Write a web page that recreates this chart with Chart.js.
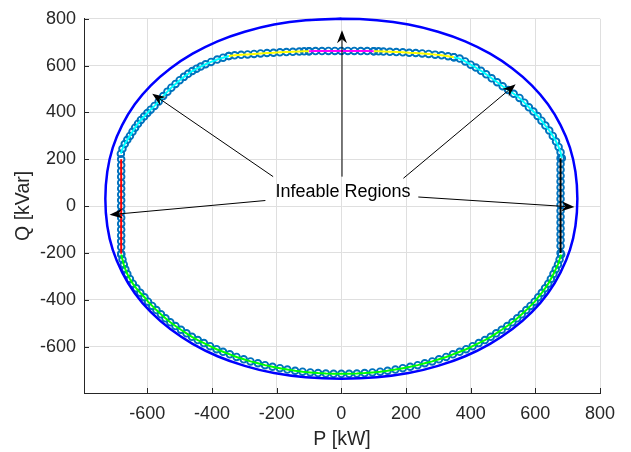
<!DOCTYPE html>
<html><head><meta charset="utf-8">
<script src="https://cdn.jsdelivr.net/npm/chart.js@4.4.0/dist/chart.umd.min.js"></script>
<style>html,body{margin:0;padding:0;background:#fff;}#wrap{width:631px;height:452px;}</style>
</head><body><div id="wrap"><canvas id="c" width="631" height="452"></canvas></div>
<script>
// ---------- data ----------
const xTickValues = [-600, -400, -200, 0, 200, 400, 600, 800];
const xTickLabels = ['-600', '-400', '-200', '0', '200', '400', '600', '800'];
const yTickValues = [-600, -400, -200, 0, 200, 400, 600, 800];
const yTickLabels = ['-600', '-400', '-200', '0', '200', '400', '600', '800'];
const xLabel = 'P [kW]';
const yLabel = 'Q [kVar]';

// capability limit (blue), read around the loop
const limitP = [0, -110, -208, -299, -383, -460, -529, -589, -639, -678, -707, -724,
  -730, -724, -707, -678, -639, -589, -529, -460, -383, -299, -208, -110,
  0, 110, 208, 299, 383, 460, 529, 589, 639, 678, 707, 724,
  730, 724, 707, 678, 639, 589, 529, 460, 383, 299, 208, 110, 0, -110];
const limitQ = [800, 794, 776, 745, 704, 651, 588, 516, 435, 346, 250, 147,
  31, -85, -187, -283, -372, -453, -525, -588, -641, -682, -713, -731,
  -737, -731, -713, -682, -641, -588, -525, -453, -372, -283, -187, -85,
  31, 147, 250, 346, 435, 516, 588, 651, 704, 745, 776, 794, 800, 794];

// operating points, by region
const leftVertP = [-681, -681, -681, -681, -681, -681, -681, -681, -681, -681, -681, -681, -681, -681, -681, -681, -681];
const leftVertQ = [200, 175, 150, 125, 100, 75, 50, 25, 0, -25, -50, -75, -100, -125, -150, -175, -203];

const upperLeftP = [-682, -677, -670, -662, -654, -646, -638, -629, -620, -610, -600, -590, -578, -565, -551, -538, -526, -513, -500, -487, -474, -461, -448, -435, -420, -403, -384, -366, -348];
const upperLeftQ = [224, 245, 265, 283, 300, 318, 335, 352, 368, 383, 398, 412, 428, 447, 470, 489, 506, 522, 538, 552, 565, 577, 587, 596, 606, 616, 626, 634, 641];

const topLeftP = [-348, -330, -310, -290, -270, -250, -230, -210, -190, -170, -150, -130, -115, -100];
const topLeftQ = [641, 644, 646, 648, 650, 652, 654, 655, 657, 658, 659, 660, 661, 661];

const topMidP = [-100, -80, -60, -40, -20, 0, 20, 40, 60, 80, 100];
const topMidQ = [661, 662, 662, 663, 663, 663, 663, 663, 662, 662, 661];

const topRightP = [100, 115, 130, 150, 170, 190, 210, 230, 250, 270, 290, 310, 330, 348];
const topRightQ = [661, 661, 660, 659, 658, 657, 655, 654, 652, 650, 647, 644, 640, 636];

const upperRightP = [348, 366, 383, 400, 416, 432, 448, 465, 482, 499, 516, 533, 551, 566, 580, 594, 607, 619, 631, 643, 654, 664, 672, 678, 682];
const upperRightQ = [636, 630, 618, 604, 592, 578, 563, 546, 529, 512, 496, 480, 462, 442, 422, 404, 385, 365, 344, 323, 300, 276, 253, 230, 205];

const rightVertP = [678, 678, 678, 678, 678, 678, 678, 678, 678, 678, 678, 678, 678, 678, 678, 678, 678];
const rightVertQ = [205, 180, 155, 130, 105, 80, 55, 30, 5, -20, -45, -70, -95, -120, -145, -170, -200];

const bottomP = [680, 675, 670, 663, 656, 648, 640, 630, 620, 609, 598, 585, 572, 558, 544, 529, 513, 496, 479, 462, 444, 425, 406, 386, 366, 345, 324, 302, 281, 258, 236, 213, 190, 167, 143, 120, 96, 72, 48, 24, 0,
  -24, -48, -72, -96, -120, -143, -167, -190, -213, -236, -258, -281, -302, -324, -345, -366, -386, -406, -425, -444, -462, -479, -496, -513, -529, -544, -558, -572, -585, -598, -609, -622, -634, -645, -654, -662, -668, -673, -677, -681];
const bottomQ = [-207, -228, -249, -270, -290, -311, -331, -351, -370, -389, -408, -426, -444, -462, -479, -496, -512, -528, -543, -558, -572, -585, -598, -611, -622, -633, -644, -654, -663, -671, -679, -686, -692, -698, -703, -707, -710, -713, -715, -716, -716,
  -716, -715, -713, -710, -707, -703, -698, -692, -686, -679, -671, -663, -654, -644, -633, -622, -611, -598, -585, -572, -558, -543, -528, -512, -496, -479, -462, -444, -426, -408, -389, -370, -351, -331, -311, -290, -270, -249, -228, -207];

// annotation
const noteText = 'Infeable Regions';
const noteP = 5, noteQ = 38;
const arrowFromP = [-211, -235, 2, 192, 238];
const arrowFromQ = [126, 24, 126, 119, 39];
const arrowToP = [-585, -717, 2, 539, 721];
const arrowToQ = [480, -37, 751, 520, -4];

// ---------- build ----------
const pts = (P, Q) => P.map((p, i) => ({x: p, y: Q[i]}));
const regions = [
  {P: leftVertP, Q: leftVertQ, color: '#FF0000'},
  {P: upperLeftP, Q: upperLeftQ, color: '#00FFFF'},
  {P: topLeftP, Q: topLeftQ, color: '#FFFF00'},
  {P: topMidP, Q: topMidQ, color: '#FF00FF'},
  {P: topRightP, Q: topRightQ, color: '#FFFF00'},
  {P: upperRightP, Q: upperRightQ, color: '#00FFFF'},
  {P: rightVertP, Q: rightVertQ, color: '#000000'},
  {P: bottomP, Q: bottomQ, color: '#00FF00'}
];
const markerPts = [];
regions.forEach(r => markerPts.push(...pts(r.P, r.Q)));

const datasets = [];
datasets.push({
  data: pts(limitP, limitQ), showLine: true, borderColor: '#0000FF', borderWidth: 2.5,
  pointRadius: 0, tension: 0.4, capBezierPoints: false, clip: 4, order: 0
});
regions.forEach(r => datasets.push({
  data: pts(r.P, r.Q), showLine: true, borderColor: r.color, borderWidth: 2,
  pointRadius: 0, tension: 0, order: 1
}));
datasets.push({
  data: markerPts, showLine: false, pointStyle: 'circle', pointRadius: 3.3,
  pointBorderWidth: 1.9, pointBorderColor: '#0072BD', pointBackgroundColor: 'rgba(0,0,0,0)', order: 2
});

const FONT = '"Liberation Sans", Arial, Helvetica, sans-serif';

const inwardTicks = {
  id: 'inwardTicks',
  beforeDatasetsDraw(chart) {
    const {ctx, chartArea: a, scales: {x, y}} = chart;
    ctx.save();
    ctx.strokeStyle = '#262626'; ctx.lineWidth = 1;
    ctx.beginPath();
    xTickValues.forEach(v => { const px = Math.round(x.getPixelForValue(v)) + 0.5; ctx.moveTo(px, a.bottom); ctx.lineTo(px, a.bottom - 5); });
    yTickValues.forEach(v => { const py = Math.round(y.getPixelForValue(v)) + 0.5; ctx.moveTo(a.left, py); ctx.lineTo(a.left + 5, py); });
    ctx.stroke();
    ctx.restore();
  }
};

const annotations = {
  id: 'annotations',
  afterDatasetsDraw(chart) {
    const {ctx, scales: {x, y}} = chart;
    ctx.save();
    ctx.strokeStyle = '#000'; ctx.fillStyle = '#000'; ctx.lineWidth = 1;
    const L = 13, W = 5, N = 9;
    for (let i = 0; i < arrowFromP.length; i++) {
      const x1 = x.getPixelForValue(arrowFromP[i]), y1 = y.getPixelForValue(arrowFromQ[i]);
      const x2 = x.getPixelForValue(arrowToP[i]), y2 = y.getPixelForValue(arrowToQ[i]);
      const a = Math.atan2(y2 - y1, x2 - x1), c = Math.cos(a), s = Math.sin(a);
      ctx.beginPath(); ctx.moveTo(x1, y1); ctx.lineTo(x2 - N * c, y2 - N * s); ctx.stroke();
      ctx.beginPath();
      ctx.moveTo(x2, y2);
      ctx.lineTo(x2 - L * c + W * s, y2 - L * s - W * c);
      ctx.lineTo(x2 - N * c, y2 - N * s);
      ctx.lineTo(x2 - L * c - W * s, y2 - L * s + W * c);
      ctx.closePath(); ctx.fill();
    }
    ctx.font = '18px ' + FONT;
    ctx.textAlign = 'center'; ctx.textBaseline = 'alphabetic';
    ctx.fillText(noteText, x.getPixelForValue(noteP), y.getPixelForValue(noteQ));
    ctx.restore();
  }
};

new Chart(document.getElementById('c'), {
  type: 'scatter',
  data: {datasets},
  plugins: [inwardTicks, annotations],
  options: {
    responsive: false, animation: false, devicePixelRatio: 1,
    layout: {padding: {top: 13, right: 31, bottom: 0, left: 0}},
    plugins: {legend: {display: false}, tooltip: {enabled: false}},
    scales: {
      x: {
        type: 'linear', min: -796, max: 800,
        afterBuildTicks: s => { s.ticks = xTickValues.map(v => ({value: v})); },
        afterFit: s => { s.height = 59; },
        ticks: {autoSkip: false, maxRotation: 0, padding: 10, color: '#262626', font: {family: FONT, size: 18},
          callback: v => { const i = xTickValues.indexOf(v); return i >= 0 ? xTickLabels[i] : ''; }},
        grid: {color: '#dfdfdf', lineWidth: 1, drawTicks: false},
        border: {display: true, color: '#262626', width: 1},
        title: {display: true, text: xLabel, color: '#262626', font: {family: FONT, size: 19.5}, padding: {top: 0, bottom: 1}}
      },
      y: {
        type: 'linear', min: -798, max: 800,
        afterBuildTicks: s => { s.ticks = yTickValues.map(v => ({value: v})); },
        afterFit: s => { s.width = 84; },
        ticks: {autoSkip: false, padding: 8, color: '#262626', font: {family: FONT, size: 18},
          callback: v => { const i = yTickValues.indexOf(v); return i >= 0 ? yTickLabels[i] : ''; }},
        grid: {color: '#dfdfdf', lineWidth: 1, drawTicks: false},
        border: {display: true, color: '#262626', width: 1},
        title: {display: true, text: yLabel, color: '#262626', font: {family: FONT, size: 19.5}, padding: {top: 12, bottom: 0}}
      }
    }
  }
});
</script></body></html>
